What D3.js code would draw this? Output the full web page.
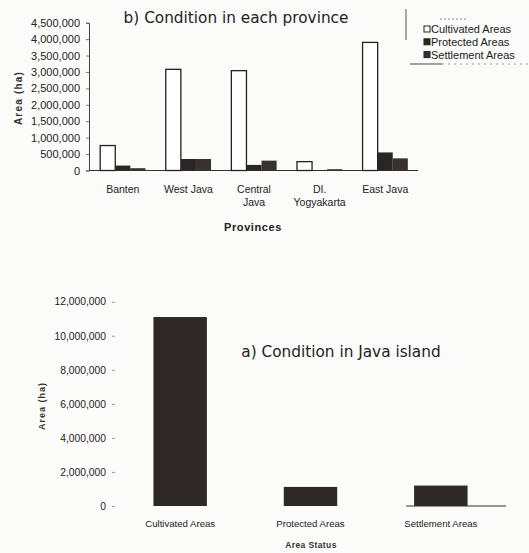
<!DOCTYPE html>
<html>
<head>
<meta charset="utf-8">
<script src="https://cdn.jsdelivr.net/npm/d3@7"></script>
<style>
  body { margin: 0; background: #fbfbfa; }
  svg { display: block; }
  .tick text { font-family: "Liberation Sans", Arial, sans-serif; fill: #222; }
</style>
</head>
<body>
<svg></svg>
<script>
// b) provinces
const provinces = ["Banten", "West Java", "Central Java", "DI. Yogyakarta", "East Java"];
const provinceLabels = [["Banten"], ["West Java"], ["Central", "Java"], ["DI.", "Yogyakarta"], ["East Java"]];
const series = ["Cultivated Areas", "Protected Areas", "Settlement Areas"];
const cultivated = [760000, 3080000, 3040000, 270000, 3900000];
const protectedArea = [150000, 350000, 170000, 15000, 550000];
const settlement = [70000, 350000, 300000, 40000, 370000];
const provinceTicks = [0, 500000, 1000000, 1500000, 2000000, 2500000, 3000000, 3500000, 4000000, 4500000];

// a) Java island
const areaStatus = ["Cultivated Areas", "Protected Areas", "Settlement Areas"];
const javaValues = [11100000, 1120000, 1200000];
const javaTicks = [0, 2000000, 4000000, 6000000, 8000000, 10000000, 12000000];

const width = 529, height = 553;
const svg = d3.select("svg").attr("width", width).attr("height", height);

const sans = '"Liberation Sans", Arial, sans-serif';
const titleFont = '"DejaVu Sans", Verdana, sans-serif';
const fills = { "Cultivated Areas": "#ffffff", "Protected Areas": "#2b2525", "Settlement Areas": "#393131" };
const fmt = d3.format(",");

// ---------- chart b ----------
const gb = svg.append("g");
const x0 = d3.scaleBand().domain(provinces).range([90, 418]).paddingInner(0.31).paddingOuter(0.155);
const x1 = d3.scaleBand().domain(series).range([0, x0.bandwidth()]);
const yb = d3.scaleLinear().domain([0, 4500000]).range([170.5, 22.7]);

const provData = provinces.map((p, i) => ({
    province: p,
    values: [cultivated[i], protectedArea[i], settlement[i]].map((v, j) => ({ key: series[j], value: v }))
}));

gb.append("g")
    .attr("transform", "translate(89,0)")
    .call(d3.axisLeft(yb).tickValues(provinceTicks).tickFormat(fmt).tickSize(3).tickPadding(6))
    .call(g => g.selectAll("text").attr("font-size", 11))
    .call(g => g.selectAll("line").attr("stroke", "#777"))
    .call(g => g.select(".domain").attr("stroke", "#444"));

gb.append("line")
    .attr("x1", 89).attr("x2", x0.range()[1])
    .attr("y1", yb(0)).attr("y2", yb(0))
    .attr("stroke", "#333").attr("stroke-width", 1);

gb.selectAll(".grp")
    .data(provData)
    .enter().append("g")
    .attr("transform", d => `translate(${x0(d.province)},0)`)
    .selectAll("rect")
    .data(d => d.values)
    .enter().append("rect")
    .attr("x", d => x1(d.key))
    .attr("y", d => yb(d.value))
    .attr("width", x1.bandwidth())
    .attr("height", d => yb(0) - yb(d.value))
    .attr("fill", d => fills[d.key])
    .attr("stroke", d => d.key === "Cultivated Areas" ? "#222" : "none")
    .attr("stroke-width", 1.3);

provinces.forEach((p, i) => {
    const t = gb.append("text")
        .attr("x", x0(p) + x0.bandwidth() / 2)
        .attr("y", 193)
        .attr("text-anchor", "middle")
        .attr("font-family", sans)
        .attr("font-size", 10.5)
        .attr("fill", "#222");
    provinceLabels[i].forEach((l, k) => {
        t.append("tspan").attr("x", x0(p) + x0.bandwidth() / 2).attr("dy", k ? 13 : 0).text(l);
    });
});

gb.append("text")
    .attr("x", 253).attr("y", 231)
    .attr("text-anchor", "middle")
    .attr("font-family", sans).attr("font-weight", "bold")
    .attr("font-size", 11).attr("letter-spacing", 0.6)
    .attr("fill", "#222")
    .text("Provinces");

gb.append("text")
    .attr("transform", "translate(22,98) rotate(-90)")
    .attr("text-anchor", "middle")
    .attr("font-family", sans).attr("font-weight", "bold")
    .attr("font-size", 10).attr("letter-spacing", 1.2)
    .attr("fill", "#333")
    .text("Area (ha)");

gb.append("text")
    .attr("x", 236).attr("y", 23)
    .attr("text-anchor", "middle")
    .attr("font-family", titleFont)
    .attr("font-size", 15.3)
    .attr("fill", "#222")
    .text("b) Condition in each province");

// legend
const leg = gb.append("g");
leg.append("line").attr("x1", 406).attr("x2", 406).attr("y1", 9).attr("y2", 40).attr("stroke", "#555");
leg.append("line").attr("x1", 440).attr("x2", 466).attr("y1", 19).attr("y2", 19)
    .attr("stroke", "#888").attr("stroke-dasharray", "2,2");
leg.append("line").attr("x1", 410).attr("x2", 442).attr("y1", 64).attr("y2", 64).attr("stroke", "#444");
leg.append("line").attr("x1", 442).attr("x2", 529).attr("y1", 64).attr("y2", 64)
    .attr("stroke", "#999").attr("stroke-dasharray", "2,4");
series.forEach((s, i) => {
    const yy = 29.5 + i * 12.8;
    leg.append("rect")
        .attr("x", 424).attr("y", yy - 3.5).attr("width", 6).attr("height", 6)
        .attr("fill", fills[s]).attr("stroke", "#222").attr("stroke-width", 1);
    leg.append("text")
        .attr("x", 431).attr("y", yy).attr("dy", "0.35em")
        .attr("font-family", sans).attr("font-size", 11)
        .attr("fill", "#222")
        .text(s);
});

// ---------- chart a ----------
const ga = svg.append("g");
const xa = d3.scaleBand().domain(areaStatus).range([115, 506]).paddingInner(0.59).paddingOuter(0.295);
const ya = d3.scaleLinear().domain([0, 12000000]).range([506, 301.7]);

ga.append("g")
    .attr("transform", "translate(115,0)")
    .call(d3.axisLeft(ya).tickValues(javaTicks).tickFormat(fmt).tickSize(3).tickPadding(6))
    .call(g => g.selectAll("text").attr("font-size", 10.3))
    .call(g => g.selectAll("line").attr("stroke", "#999"))
    .call(g => g.select(".domain").remove());

ga.selectAll(".bar")
    .data(areaStatus.map((s, i) => ({ key: s, value: javaValues[i] })))
    .enter().append("rect")
    .attr("x", d => xa(d.key))
    .attr("y", d => ya(d.value))
    .attr("width", xa.bandwidth())
    .attr("height", d => ya(0) - ya(d.value))
    .attr("fill", "#2e2828");

ga.append("line")
    .attr("x1", xa("Settlement Areas") - 8).attr("x2", xa.range()[1])
    .attr("y1", ya(0)).attr("y2", ya(0))
    .attr("stroke", "#333");

ga.selectAll(".xl")
    .data(areaStatus)
    .enter().append("text")
    .attr("x", d => xa(d) + xa.bandwidth() / 2)
    .attr("y", 527)
    .attr("text-anchor", "middle")
    .attr("font-family", sans).attr("font-size", 9.6)
    .attr("fill", "#222")
    .text(d => d);

ga.append("text")
    .attr("x", 311).attr("y", 548)
    .attr("text-anchor", "middle")
    .attr("font-family", sans).attr("font-weight", "bold")
    .attr("font-size", 8.5).attr("letter-spacing", 0.4)
    .attr("fill", "#333")
    .text("Area Status");

ga.append("text")
    .attr("transform", "translate(45,406) rotate(-90)")
    .attr("text-anchor", "middle")
    .attr("font-family", sans).attr("font-weight", "bold")
    .attr("font-size", 9).attr("letter-spacing", 1)
    .attr("fill", "#333")
    .text("Area (ha)");

ga.append("text")
    .attr("x", 341).attr("y", 357)
    .attr("text-anchor", "middle")
    .attr("font-family", titleFont)
    .attr("font-size", 15.3)
    .attr("fill", "#222")
    .text("a) Condition in Java island");
</script>
</body>
</html>
